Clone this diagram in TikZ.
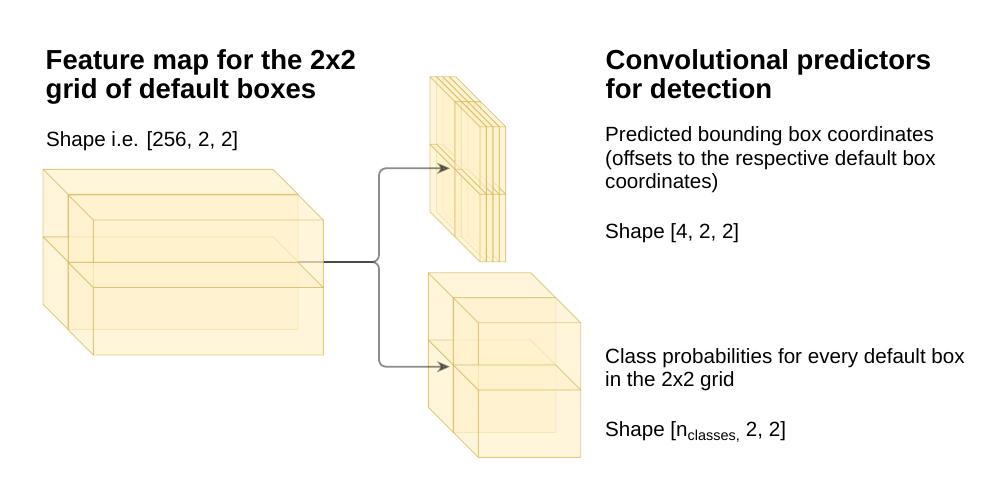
\documentclass[tikz,border=0pt]{standalone}
\usepackage{fontspec}
\setmainfont{Liberation Sans}
\usetikzlibrary{arrows.meta}

\definecolor{cubeyellow}{HTML}{FFF2CC}
\definecolor{cubeedge}{HTML}{D6B656}

\tikzset{
  cubeface/.style={draw=cubeedge, draw opacity=0.7, fill=cubeyellow, fill opacity=0.7, line width=0.9pt, line join=round},
  cubeline/.style={draw=cubeedge, draw opacity=0.7, line width=0.9pt},
  link/.style={draw=black, opacity=0.45, line width=1.8pt, rounded corners=7pt, -{Stealth[length=13pt, width=11pt, inset=4pt]}},
  txt/.style={anchor=base west, inner sep=0pt, align=left},
  title/.style={txt, font=\fontsize{27.5}{29}\selectfont\bfseries},
  body/.style={txt, font=\fontsize{20.6}{23.3}\selectfont}
}

% #1,#2 front face top left, #3 width, #4 height, #5 depth
\newcommand{\cuboid}[5]{
  \path[cubeface] (#1-#5,#2-#5) -- (#1+#3-#5,#2-#5) -- (#1+#3,#2) -- (#1+#3,#2+#4) -- (#1,#2+#4) -- (#1-#5,#2+#4-#5) -- cycle;
  \draw[cubeline] (#1-#5,#2-#5) -- (#1,#2) -- (#1+#3,#2) (#1,#2) -- (#1,#2+#4);
}

\begin{document}
\begin{tikzpicture}[x=1pt, y=-1pt]
  \fill[white] (0,0) rectangle (1000,488);
  \useasboundingbox (0,0) rectangle (1000,488);

  % back layers
  \cuboid{68}{194.3}{230}{67.5}{25}
  \cuboid{68}{261.8}{230}{67.5}{25}
  \foreach \i in {3,2,1,0} {
    \cuboid{455+\i*6.4}{101.7}{6.4}{67.5}{25}
    \cuboid{455+\i*6.4}{169.2}{6.4}{67.5}{25}
  }
  \cuboid{453.3}{297.7}{102.4}{67.3}{25}
  \cuboid{453.3}{365}{102.4}{67.3}{25}

  % connectors
  \coordinate (fmout) at (298,262);
  \coordinate (split) at (379,262);
  \coordinate (boxin) at (450,168.3);
  \coordinate (clsin) at (450,366.7);
  \draw[link] (fmout) -- (split) |- (boxin);
  \draw[link] (fmout) -- (split) |- (clsin);

  % front layers
  \cuboid{93.3}{220}{230}{67.5}{25}
  \cuboid{93.3}{287.5}{230}{67.5}{25}
  \foreach \i in {3,2,1,0} {
    \cuboid{480+\i*6.4}{126.7}{6.4}{67.5}{25}
    \cuboid{480+\i*6.4}{194.2}{6.4}{67.5}{25}
  }
  \cuboid{478.3}{322.7}{102.4}{67.3}{25}
  \cuboid{478.3}{390}{102.4}{67.3}{25}

  \node[title] (fmtitle) at (45.5,98.3) {Feature map for the 2x2\\grid of default boxes};
  \node[body] (fmshape) at (46,146.7) {Shape i.e. [256, 2, 2]};
  \node[title] (predtitle) at (605.5,98.3) {Convolutional predictors\\for detection};
  \node[body] (boxtext) at (605,188.3) {Predicted bounding box coordinates\\(offsets to the respective default box\\coordinates)};
  \node[body] (boxshape) at (605,238.3) {Shape [4, 2, 2]};
  \node[body] (clstext) at (605,386.7) {Class probabilities for every default box\\in the 2x2 grid};
  \node[body] (clsshape) at (605,436.7) {Shape [n\textsubscript{classes,} 2, 2]};
\end{tikzpicture}
\end{document}
